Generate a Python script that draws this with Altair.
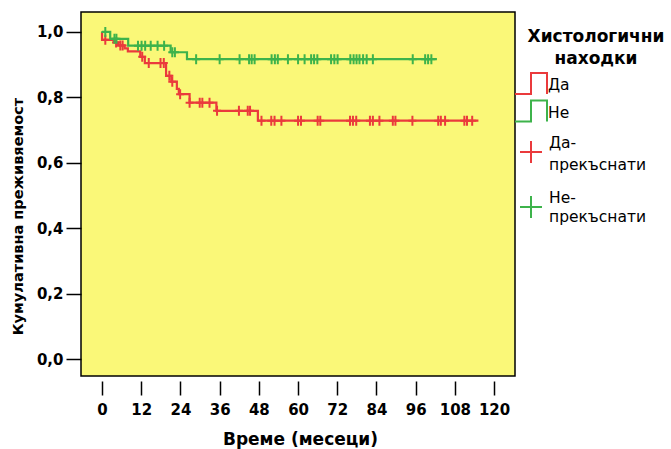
import altair as alt
import numpy as np
import pandas as pd

FONT = "DejaVu Sans"
RED = "#EA3A3C"
GREEN = "#3DB34B"

# Kaplan-Meier step points: (months, cumulative survival) for each group
da_time = [0, 0, 3.6, 4.9, 6.9, 7.9, 11.7, 13.1, 19.6, 21.2, 22.9, 23.5, 26.8, 35.0, 47.7, 115.2]
da_surv = [1.0, 0.976, 0.968, 0.959, 0.950, 0.941, 0.924, 0.905, 0.866, 0.848, 0.826,
           0.810, 0.784, 0.759, 0.729, 0.729]
ne_time = [0, 2.5, 8.0, 21.0, 26.0, 102.5]
ne_surv = [1.0, 0.979, 0.958, 0.938, 0.917, 0.917]

# censored observations (months)
da_cens = [1.0, 4.3, 5.6, 6.3, 12.3, 14.3, 17.9, 18.9, 20.6, 21.5, 23.9, 26.8, 29.9,
           30.7, 32.9, 35.2, 41.9, 44.6, 45.3, 48.8, 51.8, 52.8, 54.9, 60.0, 60.9,
           66.0, 66.8, 75.9, 76.8, 77.8, 82.0, 82.9, 84.9, 89.0, 89.8, 95.0, 102.9,
           103.7, 105.0, 110.9, 111.7, 113.3]
ne_cens = [1.0, 3.8, 4.4, 11.0, 12.1, 13.2, 14.9, 17.0, 19.0, 21.5, 22.3, 28.8, 36.0,
           42.1, 45.0, 45.8, 46.7, 51.9, 52.9, 53.8, 56.9, 60.0, 62.0, 64.0, 64.9,
           65.9, 70.1, 71.1, 72.1, 76.0, 77.0, 77.9, 78.8, 79.9, 81.0, 82.9, 95.1,
           98.9, 99.8, 100.8]

groups = ["Да", "Не"]
x_ticks = [0, 12, 24, 36, 48, 60, 72, 84, 96, 108, 120]
y_ticks = [0.0, 0.2, 0.4, 0.6, 0.8, 1.0]


def level_at(times, surv, t):
    idx = np.searchsorted(np.array(times), np.array(t), side="right") - 1
    return np.array(surv)[idx]


steps = pd.concat([
    pd.DataFrame({"t": da_time, "s": da_surv, "g": "Да", "o": range(len(da_time))}),
    pd.DataFrame({"t": ne_time, "s": ne_surv, "g": "Не", "o": range(len(ne_time))}),
])
cens = pd.concat([
    pd.DataFrame({"t": da_cens, "s": level_at(da_time, da_surv, da_cens), "g": "Да"}),
    pd.DataFrame({"t": ne_cens, "s": level_at(ne_time, ne_surv, ne_cens), "g": "Не"}),
])

W, H = 434, 364
xs = alt.Scale(domain=[-6.44, 126.4], nice=False, zero=False)
ys = alt.Scale(domain=[-0.051, 1.061], nice=False, zero=False)
color = alt.Color("g:N", scale=alt.Scale(domain=groups, range=[RED, GREEN]), legend=None)

x_axis = alt.Axis(values=x_ticks, title="Време (месеци)", grid=False, domain=False,
                  offset=5, tickSize=14, tickWidth=1.5, tickColor="black",
                  labelFont=FONT, labelFontWeight="bold", labelFontSize=15,
                  labelColor="black", labelPadding=7, labelFlush=False,
                  titleFont=FONT, titleFontWeight="bold", titleFontSize=17,
                  titleColor="black", titleX=W / 2 + 2, titleY=58,
                  titleBaseline="middle", titleAlign="center")
y_axis = alt.Axis(values=y_ticks, title="Кумулативна преживяемост", grid=False,
                  domain=False, tickSize=15, tickWidth=1.5, tickColor="black",
                  labelExpr="replace(format(datum.value, '.1f'), '.', ',')",
                  labelFont=FONT, labelFontWeight="bold", labelFontSize=15,
                  labelColor="black", labelPadding=3, labelFlush=False,
                  titleFont=FONT, titleFontWeight="bold", titleFontSize=14.5,
                  titleColor="black", titleAngle=270, titleX=-63, titleY=204,
                  titleBaseline="middle", titleAlign="center")

lines = alt.Chart(steps).mark_line(interpolate="step-after", strokeWidth=2.2).encode(
    x=alt.X("t:Q", scale=xs, axis=x_axis),
    y=alt.Y("s:Q", scale=ys, axis=y_axis),
    color=color,
    detail="g:N",
    order="o:Q",
)

PLUS = "M-0.8,0H0.8M0,-1V1"
marks = alt.Chart(cens).mark_point(shape=PLUS, filled=False, strokeWidth=2, size=100,
                                   opacity=1).encode(
    x=alt.X("t:Q", scale=xs),
    y=alt.Y("s:Q", scale=ys),
    color=color,
)

# legend, drawn to the right of the plot frame
one = pd.DataFrame({"k": [0]})


def text(s, x, y, bold=False, size=15.5, align="left"):
    return alt.Chart(one).mark_text(
        text=s, align=align, baseline="middle", font=FONT, fontSize=size,
        fontWeight="bold" if bold else "normal", color="black",
    ).encode(x=alt.value(x), y=alt.value(y))


def symbol(shape, col, x, y, size):
    return alt.Chart(one).mark_point(
        shape=shape, filled=False, stroke=col, strokeWidth=2, size=size, opacity=1,
    ).encode(x=alt.value(x), y=alt.value(y))


STEP = "M-1,0.66H0V-0.66H1V0.66"
PLUS_BIG = "M-1,0H1M0,-1V1"
legend = [
    text("Хистологични", 515, 25, bold=True, size=17, align="center"),
    text("находки", 515, 47, bold=True, size=17, align="center"),
    symbol(STEP, RED, 450, 71.5, 1024),
    text("Да", 467, 73),
    symbol(STEP, GREEN, 450, 99, 1024),
    text("Не", 467, 101),
    symbol(PLUS_BIG, RED, 450, 140, 484),
    text("Да-", 468, 131),
    text("прекъснати", 468, 153),
    symbol(PLUS_BIG, GREEN, 450, 195, 484),
    text("Не-", 468, 186),
    text("прекъснати", 468, 205),
]

chart = alt.layer(lines, marks, *legend).properties(
    width=W, height=H,
    padding={"left": 81, "top": 12, "right": 156, "bottom": 73},
    autosize=alt.AutoSizeParams(type="none"),
    background="white",
).configure_view(stroke="black", strokeWidth=1.5, fill="#FAF878")

chart.save("out.html", embed_options={"renderer": "svg", "actions": False})
